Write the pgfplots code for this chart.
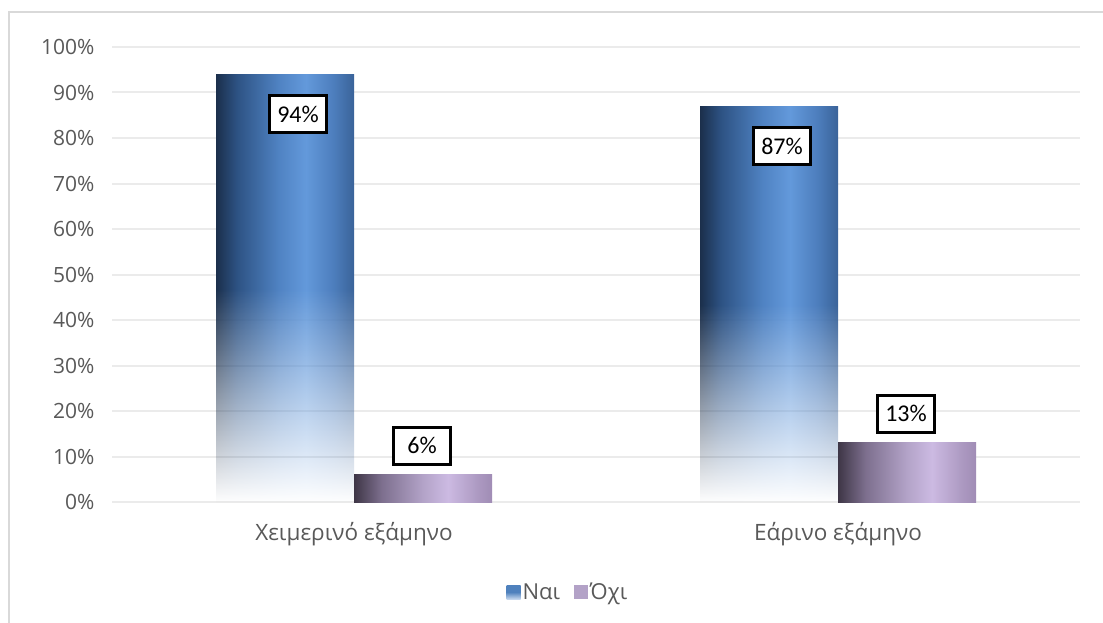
\documentclass[border=0pt]{standalone}
\usepackage{pgfplots}
\pgfplotsset{compat=1.18}
\usepackage{fontspec}
\setmainfont{Open Sans}
\newfontfamily\labelfont{Carlito}
\usetikzlibrary{fadings}

\definecolor{tickgray}{HTML}{595959}
\definecolor{framegray}{HTML}{D9D9D9}
\definecolor{gridgray}{HTML}{EBEBEB}
\definecolor{legblue}{HTML}{4F81BD}
\definecolor{legpurple}{HTML}{B3A2C7}

\definecolor{b0}{HTML}{1B2F4B}
\definecolor{b1}{HTML}{2D5283}
\definecolor{b2}{HTML}{4F82C2}
\definecolor{b3}{HTML}{6399DB}
\definecolor{b4}{HTML}{4D7EBD}
\definecolor{b5}{HTML}{3A6399}
\pgfdeclarehorizontalshading{bluebar}{100bp}{color(0bp)=(b0); color(25bp)=(b0); color(32.5bp)=(b1); color(47.5bp)=(b2); color(57.5bp)=(b3); color(67.5bp)=(b4); color(75bp)=(b5); color(100bp)=(b5)}

\definecolor{p0}{HTML}{3E3646}
\definecolor{p1}{HTML}{7D6F8E}
\definecolor{p2}{HTML}{B3A3C8}
\definecolor{p3}{HTML}{CCBAE2}
\definecolor{p4}{HTML}{AC99C1}
\definecolor{p5}{HTML}{A08CB5}
\pgfdeclarehorizontalshading{purplebar}{100bp}{color(0bp)=(p0); color(25bp)=(p0); color(35bp)=(p1); color(50bp)=(p2); color(59bp)=(p3); color(70bp)=(p4); color(75bp)=(p5); color(100bp)=(p5)}

\definecolor{lb0}{HTML}{4F81BD}
\definecolor{lb1}{HTML}{C6D7EE}
\pgfdeclareverticalshading{legblueshade}{100bp}{color(0bp)=(lb1); color(25bp)=(lb1); color(50bp)=(lb0); color(75bp)=(lb0); color(100bp)=(lb0)}

\tikzfading[name=barfade, top color=transparent!0, bottom color=transparent!100, middle color=transparent!0]

\pgfplotstableread{
x y
0 94
1 87
}\yesdata
\pgfplotstableread{
x y
0 6
1 13
}\nodata

\pgfplotsset{
  bluestyle/.style={ybar, forget plot, bar width=138pt, bar shift=-69pt, draw=none, shading=bluebar, path fading=barfade},
  purplestyle/.style={ybar, forget plot, bar width=138pt, bar shift=69pt, draw=none, shading=purplebar},
}
\tikzset{
  lblstyle/.style={draw=black, line width=3pt, fill=white, text=black,
    font=\labelfont\fontsize{24}{28}\selectfont, minimum width=57pt, minimum height=37pt, inner sep=0pt},
}

\begin{document}
\begin{tikzpicture}[x=1pt,y=1pt]
\useasboundingbox (0,0) rectangle (1103,622);
\fill[white] (0,0) rectangle (1103,622);
\draw[color=framegray, line width=2pt] (9,-20) -- (9,610) -- (1130,610);
\begin{axis}[
  at={(112pt,120pt)}, anchor=south west,
  scale only axis, width=968pt, height=455pt,
  xmin=-0.5, xmax=1.5, ymin=0, ymax=100,
  xtick={0,1}, xticklabels={Χειμερινό εξάμηνο, Εάρινο εξάμηνο},
  ytick={0,10,...,100},
  yticklabel={\pgfmathprintnumber[assume math mode=true]{\tick}\%},
  axis line style={draw=none},
  major tick length=0pt,
  ymajorgrids, grid style={draw=gridgray, line width=2pt},
  tick label style={font=\fontsize{21}{25}\selectfont, text=tickgray},
  yticklabel style={xshift=-14pt},
  xticklabel style={yshift=-17pt, font=\fontsize{22.5}{26}\selectfont},
  legend style={at={(axis description cs:0.471,-0.198)}, anchor=center, draw=none, fill=none,
    legend columns=2, font=\fontsize{22}{26}\selectfont, text=tickgray,
    nodes={inner sep=2pt},
    /tikz/every even column/.append style={column sep=12pt}},
  clip=false,
]
\addplot[bluestyle] coordinates {(0,94)};
\addplot[purplestyle] coordinates {(0,6)};
\addplot[bluestyle] coordinates {(1,87)};
\addplot[purplestyle] coordinates {(1,13)};

\addlegendimage{legend image code/.code={\path[draw=none, shading=legblueshade] (0pt,-7pt) rectangle (14pt,7pt);}}
\addlegendentry{Ναι}
\addlegendimage{legend image code/.code={\path[draw=none, fill=legpurple] (0pt,-7pt) rectangle (14pt,7pt);}}
\addlegendentry{Όχι}

\addplot[ybar, forget plot, bar width=138pt, draw=none, fill=none,
  nodes near coords={\pgfmathprintnumber[assume math mode=true]{\pgfplotspointmeta}\%},
  every node near coord/.append style={anchor=center, xshift=-56pt, yshift=-40pt, lblstyle}]
  table[x=x,y=y]{\yesdata};
\addplot[ybar, forget plot, bar width=138pt, draw=none, fill=none,
  nodes near coords={\pgfmathprintnumber[assume math mode=true]{\pgfplotspointmeta}\%},
  every node near coord/.append style={anchor=center, xshift=68pt, yshift=29pt, lblstyle}]
  table[x=x,y=y]{\nodata};
\end{axis}
\end{tikzpicture}
\end{document}
